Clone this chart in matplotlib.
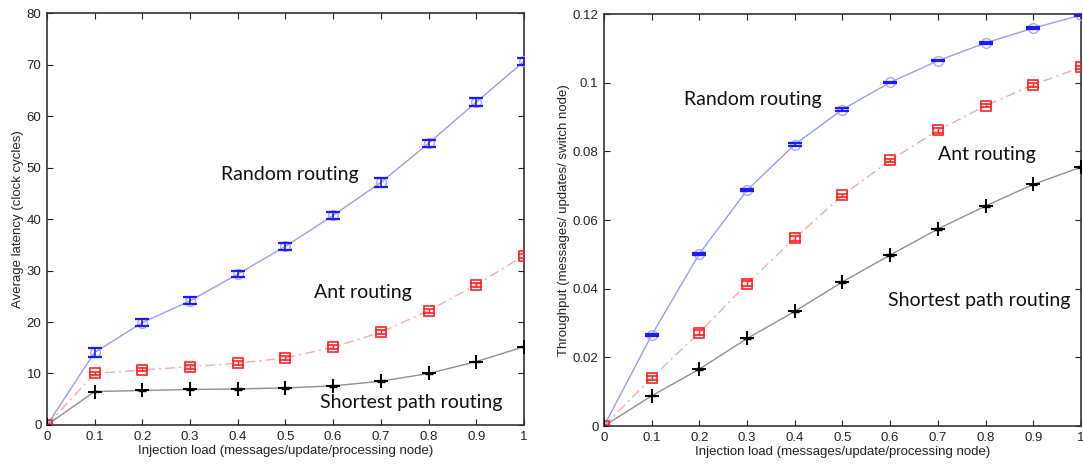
import matplotlib
matplotlib.use("Agg")
import matplotlib.pyplot as plt
import numpy as np

plt.rcParams['font.family'] = ['Liberation Sans', 'DejaVu Sans']

load = [0, 0.1, 0.2, 0.3, 0.4, 0.5, 0.6, 0.7, 0.8, 0.9, 1.0]
xticklabels = ['0', '0.1', '0.2', '0.3', '0.4', '0.5', '0.6', '0.7', '0.8', '0.9', '1']

lat_random = [0, 14.1, 19.9, 24.1, 29.3, 34.7, 40.7, 47.1, 54.7, 62.7, 70.6]
lat_random_err = [0, 0.8, 0.7, 0.7, 0.6, 0.7, 0.7, 0.8, 0.7, 0.8, 0.6]
lat_ant = [0, 10.0, 10.7, 11.3, 12.0, 13.0, 15.1, 18.0, 22.2, 27.2, 32.9]
lat_ant_err = [0, 0.3, 0.3, 0.4, 0.4, 0.4, 0.4, 0.4, 0.4, 0.4, 0.4]
lat_short = [0, 6.5, 6.7, 6.9, 7.0, 7.2, 7.6, 8.5, 10.0, 12.3, 15.2]
lat_short_err = [0, 0.15, 0.15, 0.15, 0.15, 0.15, 0.15, 0.15, 0.15, 0.15, 0.15]

thr_random = [0, 0.0265, 0.0502, 0.0687, 0.0820, 0.0922, 0.1001, 0.1064, 0.1116, 0.1159, 0.1197]
thr_random_err = [0, 0.0003, 0.0003, 0.0003, 0.0003, 0.0003, 0.0002, 0.0002, 0.0002, 0.0002, 0.0002]
thr_ant = [0, 0.01405, 0.0272, 0.0415, 0.0547, 0.0672, 0.0774, 0.0861, 0.0933, 0.0994, 0.1045]
thr_ant_err = [0, 0.0005, 0.0007, 0.0007, 0.0007, 0.0005, 0.0005, 0.0007, 0.0005, 0.0005, 0.0005]
thr_short = [0, 0.0088, 0.01657, 0.0255, 0.0334, 0.0420, 0.0498, 0.0574, 0.0641, 0.0704, 0.0754]
thr_short_err = [0, 0.0002, 0.0002, 0.0002, 0.0002, 0.0002, 0.0002, 0.0002, 0.0002, 0.0002, 0.0002]

fig = plt.figure(figsize=(10.83, 4.66), dpi=100)
ax1 = fig.add_axes([0.0434, 0.088, 0.4404, 0.884])
ax2 = fig.add_axes([0.5577, 0.0858, 0.4404, 0.884])

def draw(ax, r, re, a, ae, s, se):
    ax.plot(load, r, color='#9a9aff', lw=1.0, zorder=2)
    ax.plot(load, r, 'o', mfc='none', mec='#a8a8ff', ms=7, zorder=3)
    ax.errorbar(load, r, yerr=re, fmt='none', ecolor='#1a1aff', elinewidth=1.2, capsize=5, capthick=1.6, zorder=4)
    ax.plot(load, a, color='#ffa8a8', lw=1.0, ls=(0, (7, 3, 1.5, 3)), zorder=2)
    ax.plot(load, a, 's', mfc='none', mec='#ff2020', ms=7, mew=1.2, zorder=3)
    ax.errorbar(load, a, yerr=ae, fmt='none', ecolor='#ff2020', elinewidth=1.0, capsize=4.5, capthick=1.2, zorder=4)
    ax.plot(load, s, color='#909090', lw=1.0, zorder=2)
    ax.plot(load, s, '+', color='black', ms=10, mew=1.4, zorder=3)
    ax.errorbar(load, s, yerr=se, fmt='none', ecolor='black', elinewidth=1.0, capsize=3, capthick=1.0, zorder=4)
    ax.set_xlim(0, 1)
    ax.set_xticks(load)
    ax.set_xticklabels(xticklabels)
    ax.tick_params(direction='in', top=True, right=True, labelsize=9.5, length=4, pad=4, colors='#222222')
    for sp in ax.spines.values():
        sp.set_linewidth(1.2)
        sp.set_color('#333333')
    ax.set_xlabel('Injection load (messages/update/processing node)', fontsize=9.5, labelpad=2, color='#222222')

draw(ax1, lat_random, lat_random_err, lat_ant, lat_ant_err, lat_short, lat_short_err)
ax1.set_ylim(0, 80)
ax1.set_yticks([0, 10, 20, 30, 40, 50, 60, 70, 80])
ax1.set_ylabel('Average latency (clock cycles)', fontsize=9.5, labelpad=2, color='#222222')

draw(ax2, thr_random, thr_random_err, thr_ant, thr_ant_err, thr_short, thr_short_err)
ax2.set_ylim(0, 0.12)
ax2.set_yticks([0, 0.02, 0.04, 0.06, 0.08, 0.1, 0.12])
ax2.set_yticklabels(['0', '0.02', '0.04', '0.06', '0.08', '0.1', '0.12'])
ax2.set_ylabel('Throughput (messages/ updates/ switch node)', fontsize=9.5, labelpad=2, color='#222222')

tf = dict(family=['Lato', 'DejaVu Sans'], fontsize=14, ha='center', va='center', color='#111111')
ax1.text(0.51, 48.7, 'Random routing', **tf)
ax1.text(0.662, 25.8, 'Ant routing', **tf)
ax1.text(0.763, 4.3, 'Shortest path routing', **tf)
ax2.text(0.312, 0.0950, 'Random routing', **tf)
ax2.text(0.803, 0.0792, 'Ant routing', **tf)
ax2.text(0.786, 0.0367, 'Shortest path routing', **tf)

fig.savefig('out.png', dpi=100)
